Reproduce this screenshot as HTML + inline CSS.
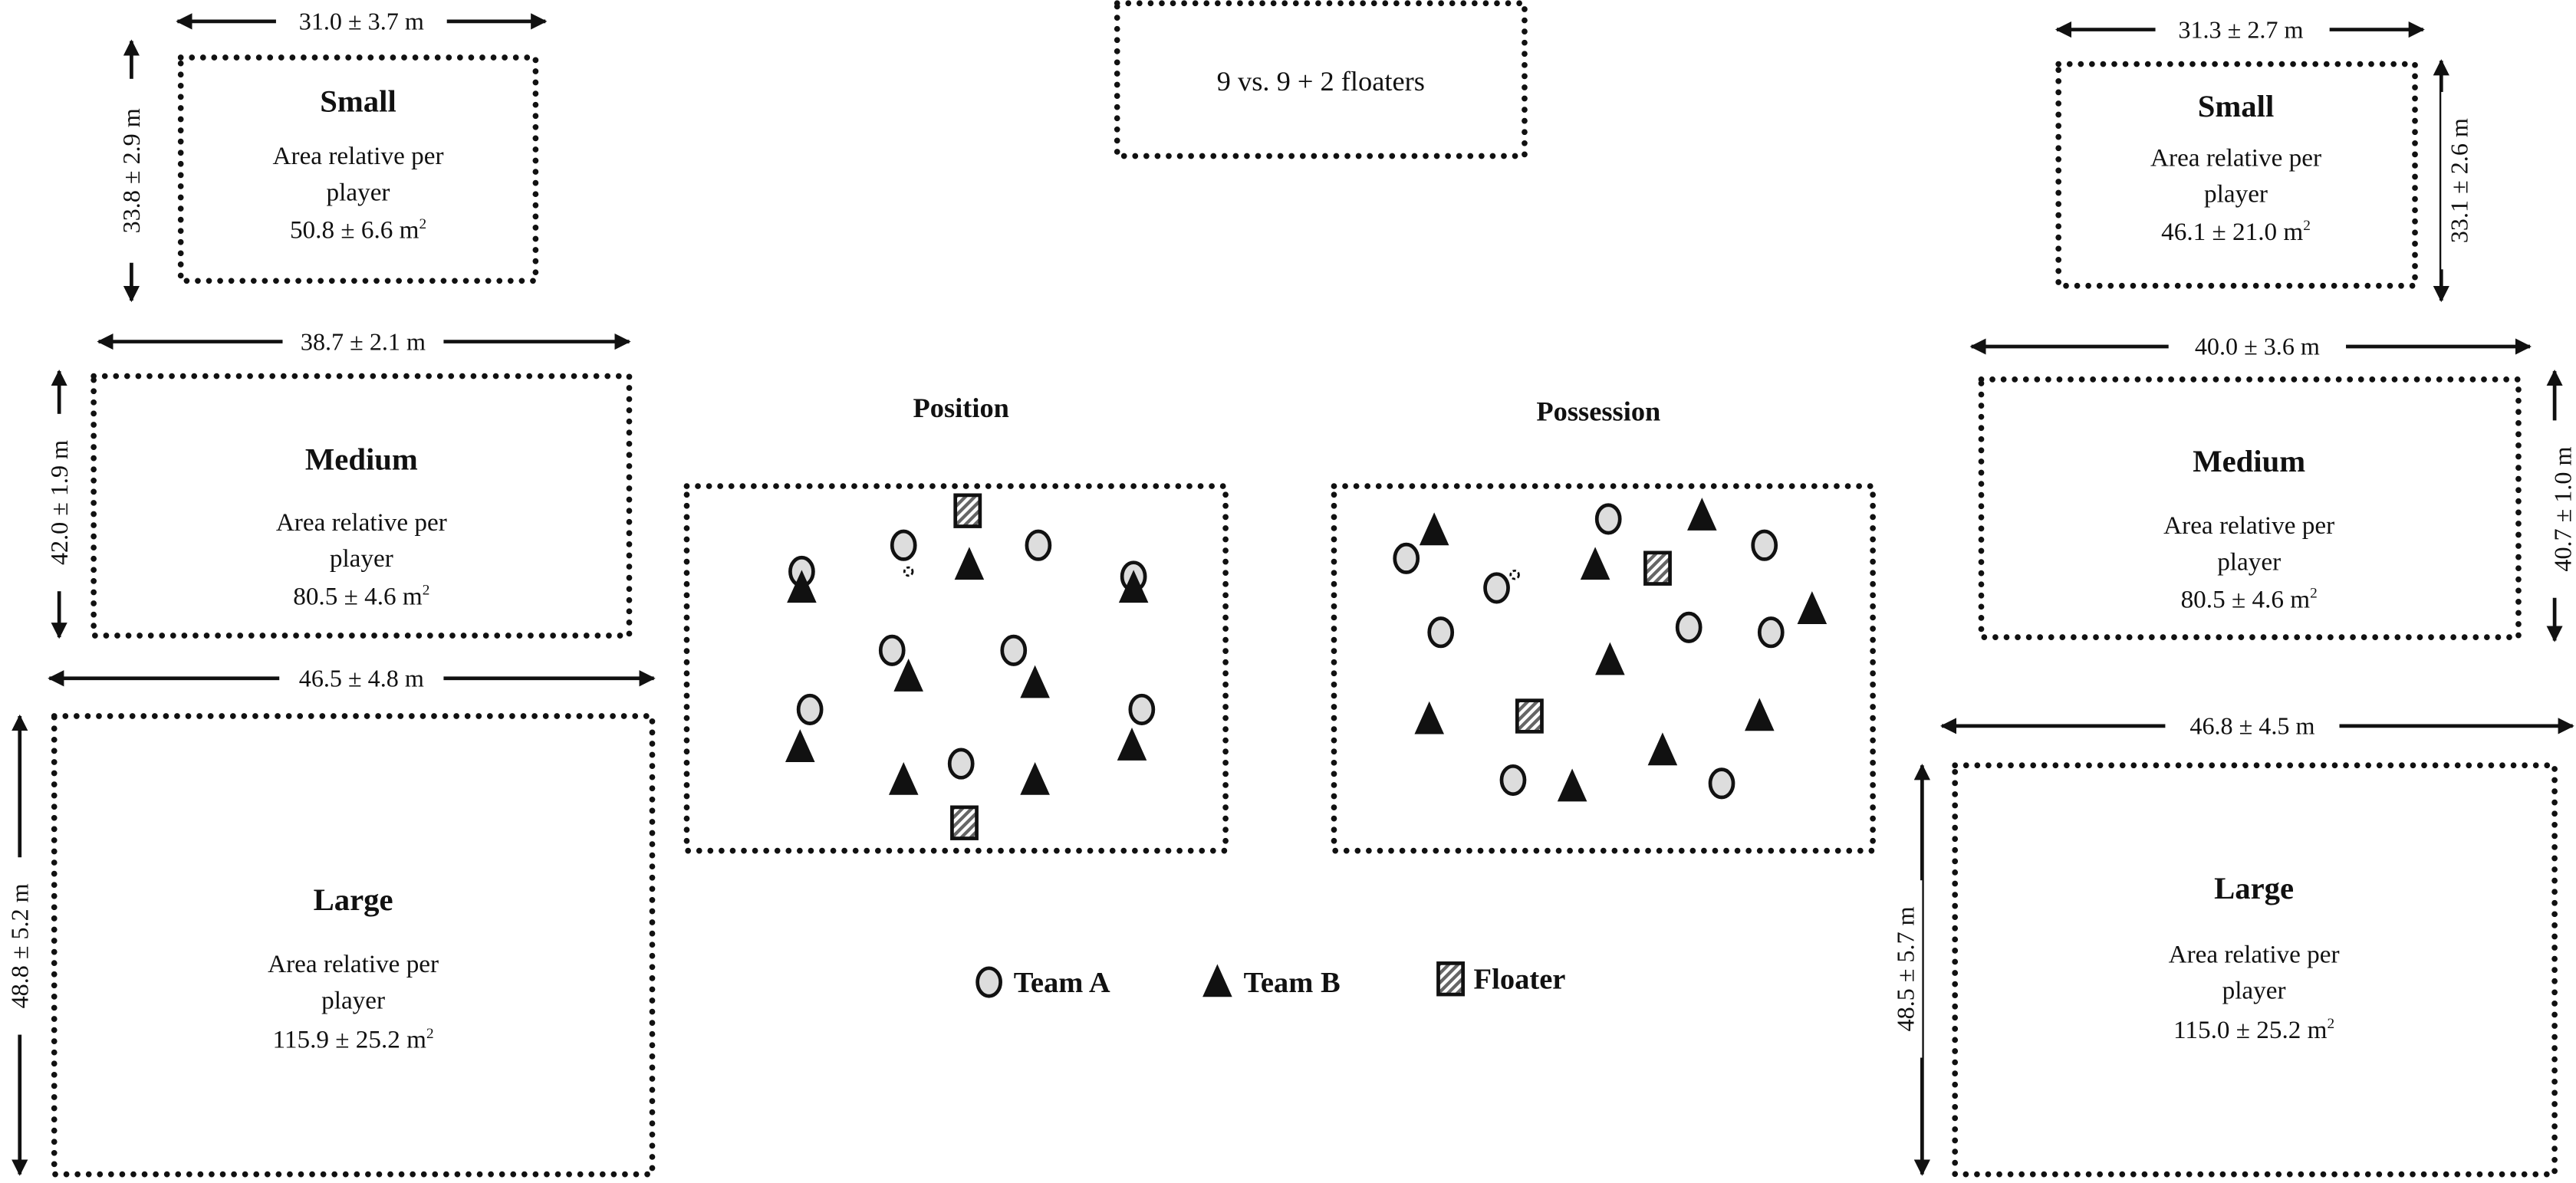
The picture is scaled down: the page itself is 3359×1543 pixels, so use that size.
<!DOCTYPE html>
<html><head><meta charset="utf-8"><style>
html,body{margin:0;padding:0;background:#fff;}
svg{display:block;}
text{font-family:"Liberation Serif",serif;fill:#111;}
</style></head><body>
<svg width="3359" height="1543" viewBox="0 0 1568 720.3" xmlns="http://www.w3.org/2000/svg">
<defs>
<marker id="a" viewBox="0 0 10 10" refX="9" refY="5" markerWidth="4.5" markerHeight="4.5" orient="auto-start-reverse"><path d="M0,0 L10,5 L0,10 z" fill="#111"/></marker>
<pattern id="h" width="4" height="4" patternUnits="userSpaceOnUse" patternTransform="rotate(45)"><rect width="4" height="4" fill="#fff"/><rect width="2" height="4" fill="#666"/></pattern>
<g id="c"><ellipse cx="0" cy="0" rx="7" ry="8.5" fill="#ddd" stroke="#111" stroke-width="2.2"/></g>
<g id="t"><path d="M0,-10 L9,10 L-9,10 z" fill="#111"/></g>
<g id="f"><rect x="-7.5" y="-9.5" width="15" height="19" fill="url(#h)" stroke="#111" stroke-width="2.2"/></g>
</defs>
<g fill="none" stroke="#111" stroke-width="3.6" stroke-linecap="round" stroke-dasharray="0 6.8">
<rect x="110" y="35" width="216" height="136"/>
<rect x="57" y="229" width="326" height="158"/>
<rect x="33" y="436" width="364" height="279"/>
<rect x="680" y="2" width="248" height="93"/>
<rect x="418" y="296" width="328" height="222"/>
<rect x="812" y="296" width="328" height="222"/>
<rect x="1253" y="39" width="217" height="135"/>
<rect x="1206" y="231" width="327" height="157"/>
<rect x="1190" y="466" width="365" height="249"/>
</g>
<g stroke="#111" stroke-width="2.2" marker-start="url(#a)" marker-end="url(#a)">
<line x1="108" y1="13" x2="332" y2="13"/>
<line x1="80" y1="25" x2="80" y2="183"/>
<line x1="60" y1="208" x2="383" y2="208"/>
<line x1="36" y1="226" x2="36" y2="388"/>
<line x1="30" y1="413" x2="398" y2="413"/>
<line x1="12" y1="436" x2="12" y2="715"/>
<line x1="1252" y1="18" x2="1475" y2="18"/>
<line x1="1486" y1="37" x2="1486" y2="183"/>
<line x1="1200" y1="211" x2="1540" y2="211"/>
<line x1="1555" y1="226" x2="1555" y2="390"/>
<line x1="1182" y1="442" x2="1566" y2="442"/>
<line x1="1170" y1="466" x2="1170" y2="715"/>
</g>
<g fill="#fff">
<rect x="168" y="3" width="104" height="20"/>
<rect x="70" y="48" width="20" height="112"/>
<rect x="172" y="198" width="98" height="20"/>
<rect x="26" y="252" width="20" height="108"/>
<rect x="170" y="403" width="100" height="20"/>
<rect x="2" y="522" width="20" height="108"/>
<rect x="1312" y="8" width="106" height="20"/>
<rect x="1486" y="56" width="22" height="108"/>
<rect x="1320" y="201" width="108" height="20"/>
<rect x="1550" y="256" width="20" height="108"/>
<rect x="1318" y="432" width="106" height="20"/>
<rect x="1150" y="536" width="20" height="108"/>
</g>
<g font-size="15" text-anchor="middle">
<text x="220" y="18">31.0  ± 3.7 m</text>
<text x="221" y="213">38.7 ± 2.1 m</text>
<text x="220" y="418">46.5 ± 4.8 m</text>
<text x="1364" y="23">31.3  ± 2.7 m</text>
<text x="1374" y="216">40.0  ± 3.6 m</text>
<text x="1371" y="447">46.8 ± 4.5 m</text>
<text transform="translate(85,104) rotate(-90)">33.8 ± 2.9 m</text>
<text transform="translate(41,306) rotate(-90)">42.0 ± 1.9 m</text>
<text transform="translate(17,576) rotate(-90)">48.8 ± 5.2 m</text>
<text transform="translate(1502,110) rotate(-90)">33.1 ± 2.6 m</text>
<text transform="translate(1565,310) rotate(-90)">40.7 ± 1.0 m</text>
<text transform="translate(1165,590) rotate(-90)">48.5 ± 5.7 m</text>
</g>
<g text-anchor="middle" font-size="15.5">
<text x="218" y="68" font-weight="bold" font-size="19">Small</text>
<text x="218" y="100">Area relative per</text>
<text x="218" y="122">player</text>
<text x="218" y="145">50.8 ± 6.6 m<tspan font-size="9" dy="-6">2</tspan></text>
<text x="220" y="286" font-weight="bold" font-size="19">Medium</text>
<text x="220" y="323">Area relative per</text>
<text x="220" y="345">player</text>
<text x="220" y="368">80.5 ± 4.6 m<tspan font-size="9" dy="-6">2</tspan></text>
<text x="215" y="554" font-weight="bold" font-size="19">Large</text>
<text x="215" y="592">Area relative per</text>
<text x="215" y="614">player</text>
<text x="215" y="638">115.9 ± 25.2 m<tspan font-size="9" dy="-6">2</tspan></text>
<text x="1361" y="71" font-weight="bold" font-size="19">Small</text>
<text x="1361" y="101">Area relative per</text>
<text x="1361" y="123">player</text>
<text x="1361" y="146">46.1 ± 21.0 m<tspan font-size="9" dy="-6">2</tspan></text>
<text x="1369" y="287" font-weight="bold" font-size="19">Medium</text>
<text x="1369" y="325">Area relative per</text>
<text x="1369" y="347">player</text>
<text x="1369" y="370">80.5  ± 4.6 m<tspan font-size="9" dy="-6">2</tspan></text>
<text x="1372" y="547" font-weight="bold" font-size="19">Large</text>
<text x="1372" y="586">Area relative per</text>
<text x="1372" y="608">player</text>
<text x="1372" y="632">115.0  ± 25.2 m<tspan font-size="9" dy="-6">2</tspan></text>
<text x="804" y="55" font-size="17">9 vs. 9 + 2 floaters</text>
<text x="585" y="254" font-weight="bold" font-size="17">Position</text>
<text x="973" y="256" font-weight="bold" font-size="17">Possession</text>
</g>
<g>
<use href="#f" x="589" y="311"/><use href="#f" x="587" y="501"/>
<use href="#c" x="488" y="348"/><use href="#c" x="550" y="332"/><use href="#c" x="632" y="332"/><use href="#c" x="690" y="351"/><use href="#c" x="543" y="396"/><use href="#c" x="617" y="396"/><use href="#c" x="493" y="432"/><use href="#c" x="695" y="432"/><use href="#c" x="585" y="465"/>
<use href="#t" x="590" y="343"/><use href="#t" x="488" y="357"/><use href="#t" x="690" y="357"/><use href="#t" x="553" y="411"/><use href="#t" x="630" y="415"/><use href="#t" x="487" y="454"/><use href="#t" x="689" y="453"/><use href="#t" x="550" y="474"/><use href="#t" x="630" y="474"/>
<circle cx="553" cy="348" r="2.5" fill="none" stroke="#111" stroke-width="1.3" stroke-dasharray="2 1.5"/>
<use href="#f" x="1009" y="346"/><use href="#f" x="931" y="436"/>
<use href="#t" x="873" y="322"/><use href="#t" x="1036" y="313"/><use href="#t" x="971" y="343"/><use href="#t" x="1103" y="370"/><use href="#t" x="980" y="401"/><use href="#t" x="870" y="437"/><use href="#t" x="1071" y="435"/><use href="#t" x="1012" y="456"/><use href="#t" x="957" y="478"/>
<use href="#c" x="979" y="316"/><use href="#c" x="1074" y="332"/><use href="#c" x="856" y="340"/><use href="#c" x="911" y="358"/><use href="#c" x="877" y="385"/><use href="#c" x="1028" y="382"/><use href="#c" x="1078" y="385"/><use href="#c" x="921" y="475"/><use href="#c" x="1048" y="477"/>
<circle cx="922" cy="350" r="2.5" fill="none" stroke="#111" stroke-width="1.3" stroke-dasharray="2 1.5"/>
<use href="#c" x="602" y="598"/><use href="#t" x="741" y="597"/><use href="#f" x="883" y="596"/>
</g>
<g font-weight="bold" font-size="18">
<text x="617" y="604">Team A</text>
<text x="757" y="604">Team B</text>
<text x="897" y="602">Floater</text>
</g>
</svg>
</body></html>
